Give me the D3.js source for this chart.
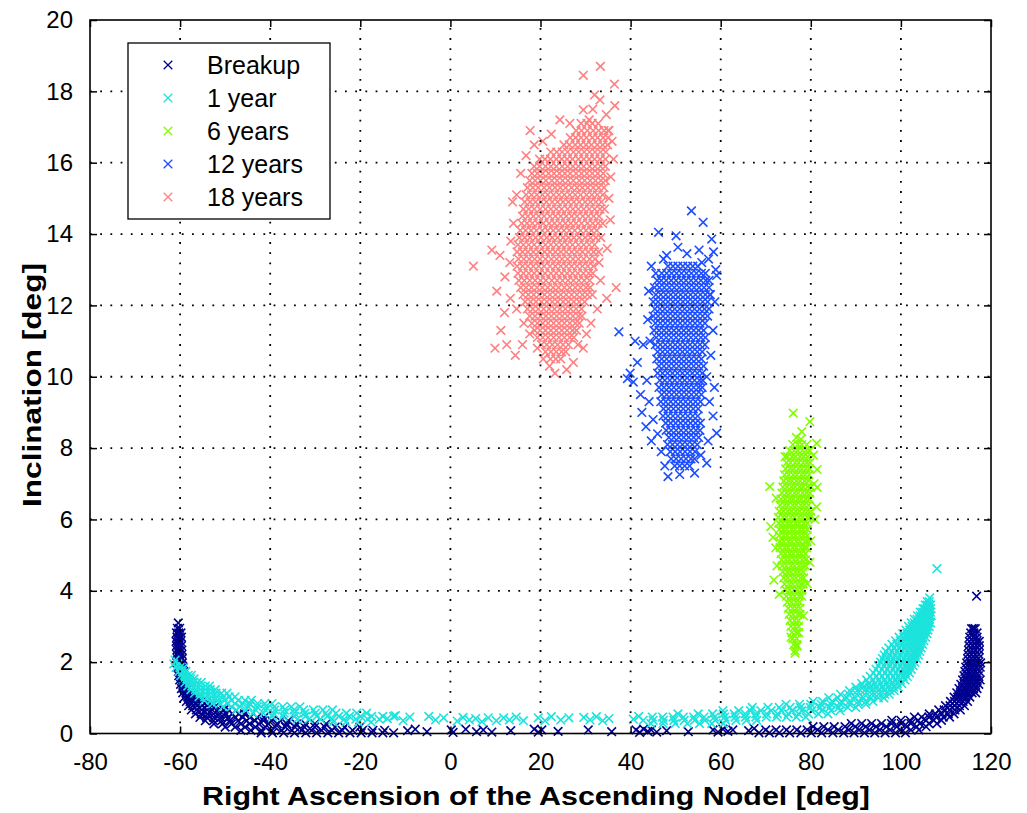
<!DOCTYPE html>
<html><head><meta charset="utf-8">
<script src="https://cdn.jsdelivr.net/npm/d3@7"></script>
<style>
body{margin:0;background:#fff}
text{font-family:"Liberation Sans",Arial,sans-serif}
</style>
</head><body>
<svg id="chart" width="1027" height="813"></svg>
<script>
// ---------------- data ----------------
const xTicks = [-80,-60,-40,-20,0,20,40,60,80,100,120];
const yTicks = [0,2,4,6,8,10,12,14,16,18,20];
const seriesNames = ["Breakup","1 year","6 years","12 years","18 years"];
const seriesColors = ["#00008f","#1ce3dc","#80ff00","#1c4dff","#ff8080"];
const xLabel = "Right Ascension of the Ascending Nodel [deg]";
const yLabel = "Inclination [deg]";

// Breakup: rows [inclination, [RAAN values]] and single points [RAAN, inclination]
const breakupRowsLeft = [
 [3.1,[-60.4]],[2.95,[-60.6,-60.1]],[2.82,[-60.8,-60.3,-59.8]],[2.7,[-60.7,-60.2,-59.7]],
 [2.58,[-60.9,-60.4,-59.9]],[2.46,[-60.8,-60.3,-59.7]],[2.34,[-60.7,-60.2,-59.6]],
 [2.22,[-60.8,-60.2,-59.6]],[2.1,[-60.6,-60.0,-59.5]],[1.98,[-60.7,-60.1,-59.5]],
 [1.86,[-60.5,-59.9,-59.3]],[1.74,[-60.4,-59.8,-59.2]],[1.62,[-60.3,-59.7,-59.1]],
 [1.5,[-60.1,-59.5,-58.9]],[1.38,[-59.9,-59.3,-58.6]],[1.26,[-59.7,-59.0,-58.3]],
 [1.14,[-59.4,-58.7,-57.9,-57.1]],[1.02,[-59.0,-58.3,-57.5,-56.6,-55.8]],
 [0.9,[-58.6,-57.8,-56.9,-55.9,-55.0,-54.1]],
 [0.78,[-58.1,-57.2,-56.2,-55.1,-54.0,-53.0,-52.0]],
 [0.66,[-57.5,-56.4,-55.2,-54.0,-52.8,-51.5,-50.3,-49.2]],
 [0.55,[-56.6,-55.3,-53.9,-52.6,-51.2,-49.8,-48.4,-47.0,-45.7]],
 [0.45,[-55.6,-54.1,-52.5,-51.0,-49.3,-47.7,-46.1,-44.5,-42.9,-41.4]],
 [0.36,[-54.4,-52.6,-50.8,-49.0,-47.1,-45.2,-43.4,-41.5,-39.7,-37.8,-36.0]],
 [0.27,[-52.5,-50.6,-48.6,-46.5,-44.6,-42.5,-40.4,-38.4,-36.3,-34.2,-32.2,-30.1,-27.6]],
 [0.18,[-50.0,-47.8,-45.6,-43.3,-41.1,-38.9,-36.6,-34.5,-32.4,-30.1,-27.9,-25.6,-23.5,-20.1]],
 [0.09,[-46.5,-44.3,-42.0,-39.7,-37.5,-35.2,-33.0,-30.8,-28.6,-26.3,-24.0,-21.7,-19.5,-17.2,-14.6]],
 [0.02,[-42.0,-39.5,-37.0,-34.6,-32.1,-29.7,-27.2,-24.8,-22.3,-19.8,-17.4,-15.0,-12.6]]
];
const breakupRowsRight = [
 [0.02,[68.5,70.8,73.0,75.3,77.8,80.1,82.4,84.9,87.3,89.6,91.9,94.2,96.5,98.8,101.0]],
 [0.1,[70.0,72.3,74.6,76.9,79.2,81.5,83.8,86.1,88.4,90.7,93.0,95.3,97.6,99.9,102.2,104.0]],
 [0.19,[80.5,82.9,85.2,87.6,89.9,92.2,94.5,96.8,99.1,101.3,103.5,105.6]],
 [0.28,[89.0,91.3,93.5,95.7,97.9,100.1,102.2,104.2,106.2,108.0]],
 [0.37,[98.0,100.0,102.0,103.8,105.6,107.3,109.0]],
 [0.46,[103.0,104.6,106.2,107.8,109.4,110.8]],
 [0.55,[106.3,107.7,109.1,110.5,111.8]],
 [0.66,[108.4,109.6,110.8,112.0,113.2]],
 [0.78,[109.9,110.9,111.9,113.0,114.1]],
 [0.9,[111.0,111.9,112.8,113.8,114.8]],
 [1.02,[111.8,112.6,113.5,114.4,115.3]],
 [1.14,[112.4,113.2,114.0,114.9,115.8,116.6]],
 [1.26,[112.9,113.7,114.5,115.3,116.1,116.9]],
 [1.38,[113.3,114.1,114.9,115.7,116.5,117.3]],
 [1.5,[113.7,114.5,115.3,116.1,116.9,117.6]],
 [1.62,[114.0,114.8,115.6,116.4,117.2]],
 [1.74,[114.2,115.0,115.8,116.6,117.4]],
 [1.86,[114.4,115.2,116.0,116.8,117.6]],
 [1.98,[114.6,115.4,116.2,117.0,117.7]],
 [2.1,[114.8,115.6,116.4,117.2]],
 [2.22,[114.9,115.7,116.5,117.3]],
 [2.34,[115.0,115.8,116.6,117.4]],
 [2.46,[115.1,115.9,116.7,117.4]],
 [2.58,[115.2,116.0,116.8,117.4]],
 [2.7,[115.3,116.1,116.9]],
 [2.82,[115.5,116.2,116.9]],
 [2.94,[115.7,116.1,116.5]]
];
const breakupPts = [
 [-9.5,0.08],[-7.8,0.12],[-5.2,0.05],[0.2,0.1],[0.6,0.03],[3.4,0.12],[5.8,0.05],[7.3,0.1],
 [9.2,0.04],[13.4,0.08],[18.6,0.12],[19.5,0.04],[20.3,0.1],[23.9,0.06],[30.6,0.1],[35.8,0.05],
 [41.2,0.1],[42.0,0.03],[42.9,0.12],[43.8,0.06],[44.6,0.1],[45.8,0.04],[48.0,0.08],[52.8,0.05],
 [58.3,0.1],[59.4,0.04],[60.5,0.12],[61.6,0.06],[62.7,0.1],[66.2,0.08],[67.4,0.14],
 [116.8,3.85]
];

// 1 year
const year1RowsLeft = [
 [2.06,[-61.1]],[1.95,[-61.4,-60.5]],[1.85,[-60.9,-60.0,-59.2]],[1.74,[-60.3,-59.5,-58.7]],
 [1.63,[-59.8,-59.0,-58.2,-57.5]],[1.53,[-59.3,-58.5,-57.7,-56.9]],
 [1.43,[-58.9,-58.0,-57.1,-56.2,-55.3]],[1.33,[-58.3,-57.4,-56.4,-55.4,-54.4,-53.5]],
 [1.23,[-57.6,-56.6,-55.5,-54.4,-53.3,-52.2]],[1.13,[-56.8,-55.6,-54.4,-53.2,-52.0,-50.8,-49.6]],
 [1.03,[-55.8,-54.5,-53.1,-51.8,-50.4,-49.1,-47.8]],
 [0.93,[-54.6,-53.1,-51.6,-50.1,-48.6,-47.1,-45.6,-44.2]],
 [0.84,[-52.8,-51.2,-49.5,-47.8,-46.1,-44.5,-42.8,-41.2,-39.6]],
 [0.75,[-50.5,-48.6,-46.7,-44.8,-42.9,-41.0,-39.1,-37.2,-35.3,-33.4]],
 [0.66,[-47.5,-45.4,-43.2,-41.1,-39.0,-36.8,-34.7,-32.6,-30.4,-28.3,-26.2]],
 [0.57,[-43.8,-41.5,-39.2,-36.9,-34.6,-32.3,-30.0,-27.7,-25.4,-23.1,-20.8,-18.6]],
 [0.48,[-39.5,-37.1,-34.6,-32.2,-29.7,-27.3,-24.8,-22.4,-19.9,-17.5,-15.0,-12.6]],
 [0.4,[-34.0,-31.4,-28.8,-26.2,-23.6,-21.0,-18.4,-15.8]],
 [0.32,[-26.0,-23.2,-20.4,-17.6]]
];
const year1RowsRight = [
 [0.28,[44.5,47.2,49.9,52.6,55.3,58.0,60.6]],
 [0.37,[42.8,45.0,47.3,49.6,51.9,54.2,56.5,58.8,61.1,63.4,65.7,68.0]],
 [0.46,[44.8,47.1,49.4,51.7,54.0,56.3,58.6,60.9,63.2,65.5,67.8,70.1,72.4,74.6,76.8,78.9]],
 [0.55,[50.5,55.0,58.2,60.6,63.0,65.4,67.8,70.2,72.6,75.0,77.3,79.5,81.7,83.8]],
 [0.64,[60.5,64.0,66.6,68.9,71.2,73.5,75.8,78.0,80.2,82.4,84.5,86.5]],
 [0.73,[67.0,70.5,73.0,75.4,77.7,79.9,82.1,84.2,86.2,88.2,90.0]],
 [0.82,[74.5,77.5,80.0,82.3,84.5,86.6,88.6,90.5,92.2]],
 [0.9,[80.5,82.6,84.7,86.7,88.6,90.5,92.2,93.8]],
 [1.0,[84.0,86.0,88.0,89.9,91.7,93.4,95.0,96.2]],
 [1.1,[86.6,88.4,90.2,91.9,93.5,95.0,96.4,97.4]],
 [1.2,[88.6,90.3,91.9,93.4,94.9,96.3,97.6,98.5]],
 [1.3,[90.0,91.6,93.1,94.5,95.9,97.2,98.4,99.4]],
 [1.4,[91.3,92.8,94.2,95.5,96.8,98.0,99.2,100.2]],
 [1.5,[92.4,93.8,95.1,96.4,97.6,98.8,99.9,100.9]],
 [1.6,[93.2,94.6,95.9,97.1,98.3,99.4,100.5,101.4]],
 [1.7,[93.9,95.2,96.5,97.7,98.9,100.0,101.0,101.9]],
 [1.8,[94.5,95.8,97.0,98.2,99.4,100.5,101.5,102.3]],
 [1.9,[95.0,96.3,97.5,98.7,99.9,101.0,102.0,102.7]],
 [2.0,[95.5,96.7,97.9,99.1,100.3,101.4,102.4,103.1]],
 [2.1,[95.9,97.1,98.3,99.5,100.7,101.8,102.8,103.5]],
 [2.2,[96.3,97.5,98.7,99.9,101.1,102.2,103.2,103.9]],
 [2.3,[96.7,97.9,99.1,100.3,101.5,102.6,103.5,104.2]],
 [2.4,[97.3,98.5,99.6,100.7,101.8,102.9,103.8,104.5]],
 [2.5,[98.0,99.1,100.2,101.2,102.2,103.2,104.1,104.8]],
 [2.6,[98.8,99.9,100.9,101.8,102.7,103.6,104.4,105.1]],
 [2.7,[99.6,100.6,101.5,102.4,103.2,104.0,104.8,105.5]],
 [2.8,[100.4,101.3,102.1,102.9,103.7,104.4,105.1,105.8]],
 [2.9,[101.1,101.9,102.7,103.4,104.1,104.8,105.4,106.0]],
 [3.0,[101.7,102.5,103.2,103.9,104.6,105.2,105.8,106.3]],
 [3.1,[102.3,103.0,103.7,104.3,104.9,105.5,106.1,106.6]],
 [3.2,[103.0,103.6,104.2,104.8,105.3,105.8,106.3]],
 [3.3,[103.7,104.3,104.8,105.3,105.8,106.3,106.7]],
 [3.4,[104.3,104.8,105.3,105.8,106.2,106.6]],
 [3.5,[104.9,105.3,105.8,106.2,106.6]],
 [3.6,[105.4,105.8,106.2,106.6]],
 [3.7,[105.8,106.3]],
 [3.8,[106.4]]
];
const year1Pts = [
 [-14.0,0.42],[-12.2,0.5],[-10.5,0.36],[-9.0,0.46],[-4.8,0.48],[-3.3,0.38],[-1.5,0.44],
 [1.5,0.35],[2.8,0.45],[4.2,0.38],[5.6,0.42],[7.0,0.33],[8.4,0.44],[10.2,0.36],[11.8,0.44],
 [13.1,0.38],[14.6,0.46],[16.2,0.36],[19.5,0.44],[21.0,0.36],[22.4,0.47],[24.5,0.38],
 [26.3,0.44],[29.6,0.45],[31.0,0.38],[32.4,0.47],[33.8,0.36],[35.2,0.42],[40.6,0.4],
 [41.8,0.48],[108.0,4.62]
];

// 6 years
const year6Rows = [
 [8.1,[76.0,77.1,78.0,79.1]],[7.93,[75.3,76.3,77.1,78.1,78.9,79.7]],
 [7.76,[74.8,75.8,76.6,77.6,78.4,79.3]],[7.59,[74.6,75.5,76.5,77.3,78.3,79.1,79.8]],
 [7.42,[74.4,75.4,76.2,77.2,78.0,78.9,79.7]],[7.25,[74.2,75.1,76.1,76.9,77.9,78.7,79.6]],
 [7.08,[74.0,75.0,75.8,76.8,77.6,78.6,79.4]],[6.91,[73.8,74.7,75.7,76.5,77.5,78.3,79.3,80.0]],
 [6.74,[73.6,74.6,75.4,76.4,77.2,78.2,79.0,79.8]],[6.57,[73.4,74.3,75.3,76.1,77.1,77.9,78.9,79.7]],
 [6.4,[73.2,74.2,75.0,76.0,76.8,77.8,78.6,79.5]],[6.23,[73.0,73.9,74.9,75.7,76.7,77.5,78.5,79.3,80.0]],
 [6.06,[72.8,73.8,74.6,75.6,76.4,77.4,78.2,79.2,79.9]],[5.89,[72.9,73.8,74.8,75.6,76.6,77.4,78.4,79.2]],
 [5.72,[73.0,73.9,74.7,75.7,76.5,77.5,78.3,79.2]],[5.55,[73.0,74.0,74.8,75.8,76.6,77.6,78.4,79.2]],
 [5.38,[73.1,74.0,75.0,75.8,76.8,77.6,78.6,79.2]],[5.21,[73.2,74.2,75.0,76.0,76.8,77.8,78.6,79.1]],
 [5.04,[73.4,74.3,75.3,76.1,77.1,77.9,78.8]],[4.87,[73.5,74.5,75.3,76.3,77.1,78.1,78.8]],
 [4.7,[73.7,74.6,75.6,76.4,77.4,78.2,78.8]],[4.53,[73.8,74.8,75.6,76.6,77.4,78.3]],
 [4.36,[74.0,74.9,75.9,76.7,77.7,78.4]],[4.19,[74.2,75.2,76.0,77.0,77.8,78.3]],
 [4.02,[74.4,75.3,76.3,77.1,78.0]],[3.85,[74.6,75.6,76.4,77.4,78.0]],
 [3.68,[74.8,75.7,76.7,77.5]],[3.51,[75.0,76.0,76.8,77.6]],[3.34,[75.2,76.1,77.1,77.6]],
 [3.17,[75.4,76.4,77.2]],[3.0,[75.6,76.5,77.3]],[2.83,[75.8,76.8,77.3]],
 [2.66,[76.0,76.9]],[2.49,[76.2,76.9]],[2.32,[76.5]]
];
const year6Pts = [
 [76.1,8.98],[79.8,8.74],[78.0,8.46],[81.3,8.13],[76.8,8.3],[77.8,8.25],[74.3,7.76],[80.6,7.8],
 [81.4,7.4],[80.7,7.0],[81.4,6.9],[81.3,6.35],[80.9,6.0],[70.9,6.92],[72.3,6.6],[71.1,5.8],
 [71.6,5.5],[72.2,5.2],[71.8,4.3],[72.5,4.7],[73.0,3.9],[80.0,5.4],[79.8,4.8],[76.5,2.25],
 [77.0,2.45],[75.6,2.7],[78.4,3.3],[79.2,4.2]
];

// 12 years
const year12Rows = [
 [13.1,[48.3,49.4,50.5,51.6,52.7,53.8,54.9]],
 [12.9,[46.9,48.0,49.1,50.2,51.3,52.4,53.5,54.6,55.7,56.6]],
 [12.7,[45.9,46.8,47.9,49.0,50.1,51.2,52.3,53.4,54.5,55.6,56.7,57.4]],
 [12.5,[45.3,46.4,47.5,48.6,49.7,50.8,51.9,53.0,54.1,55.2,56.3,57.4]],
 [12.3,[45.6,46.7,47.8,48.9,50.0,51.1,52.2,53.3,54.4,55.5,56.6,57.7]],
 [12.1,[45.0,46.1,47.2,48.3,49.4,50.5,51.6,52.7,53.8,54.9,56.0,57.1]],
 [11.9,[45.4,46.5,47.6,48.7,49.8,50.9,52.0,53.1,54.2,55.3,56.4,57.4]],
 [11.7,[45.0,46.1,47.2,48.3,49.4,50.5,51.6,52.7,53.8,54.9,56.0,57.1]],
 [11.5,[45.5,46.6,47.7,48.8,49.9,51.0,52.1,53.2,54.3,55.4,56.5]],
 [11.3,[45.2,46.3,47.4,48.5,49.6,50.7,51.8,52.9,54.0,55.1,56.2]],
 [11.1,[45.7,46.8,47.9,49.0,50.1,51.2,52.3,53.4,54.5,55.6,56.6]],
 [10.9,[45.5,46.6,47.7,48.8,49.9,51.0,52.1,53.2,54.3,55.4,56.5]],
 [10.7,[46.0,47.1,48.2,49.3,50.4,51.5,52.6,53.7,54.8,55.9]],
 [10.5,[45.8,46.9,48.0,49.1,50.2,51.3,52.4,53.5,54.6,55.7]],
 [10.3,[46.3,47.4,48.5,49.6,50.7,51.8,52.9,54.0,55.1,56.2]],
 [10.1,[46.0,47.1,48.2,49.3,50.4,51.5,52.6,53.7,54.8,55.9]],
 [9.9,[46.5,47.6,48.7,49.8,50.9,52.0,53.1,54.2,55.3,56.0]],
 [9.7,[46.3,47.4,48.5,49.6,50.7,51.8,52.9,54.0,55.1,55.9]],
 [9.5,[46.9,48.0,49.1,50.2,51.3,52.4,53.5,54.6,55.7]],
 [9.3,[46.7,47.8,48.9,50.0,51.1,52.2,53.3,54.4,55.5]],
 [9.1,[47.3,48.4,49.5,50.6,51.7,52.8,53.9,55.0]],
 [8.9,[47.2,48.3,49.4,50.5,51.6,52.7,53.8,54.9]],
 [8.7,[47.8,48.9,50.0,51.1,52.2,53.3,54.4,55.5]],
 [8.5,[47.9,49.0,50.1,51.2,52.3,53.4,54.5,55.4]],
 [8.3,[48.5,49.6,50.7,51.8,52.9,54.0,55.1]],
 [8.1,[48.2,49.3,50.4,51.5,52.6,53.7,54.8]],
 [7.9,[48.8,49.9,51.0,52.1,53.2,54.3]],
 [7.7,[49.0,50.1,51.2,52.3,53.4,54.2]],
 [7.5,[49.8,50.9,52.0,53.1]]
];
const year12Pts = [
 [53.5,14.65],[56.1,14.33],[46.2,14.05],[50.1,13.95],[50.5,13.63],[58.0,13.86],[58.4,13.5],
 [59.1,12.84],[55.2,13.55],[57.3,13.3],[48.0,13.4],[52.5,13.45],[44.6,13.1],[44.0,12.4],
 [43.8,11.6],[44.3,11.0],[37.4,11.26],[39.3,9.95],[39.9,10.1],[40.6,9.85],[41.5,10.4],
 [42.8,10.9],[42.2,9.5],[43.6,9.9],[42.5,9.0],[43.4,8.6],[44.1,9.3],[45.0,8.8],[44.6,8.2],
 [46.0,8.4],[46.8,7.9],[47.6,7.5],[48.3,7.2],[50.9,7.26],[54.2,7.3],[56.9,7.58],[55.6,7.8],
 [57.2,8.2],[59.1,8.42],[58.3,8.9],[57.5,9.3],[58.6,9.7],[57.8,10.6],[58.3,11.3],[58.7,12.1],
 [57.6,12.3],[56.9,10.0],[58.9,13.0],[41.0,11.0],[47.3,13.3],[55.8,13.2],[45.6,12.9]
];

// 18 years
const year18Rows = [
 [17.1,[29.0,30.3,31.5,32.8]],
 [16.9,[27.9,29.1,30.4,31.7,32.9,34.1,35.2]],
 [16.7,[26.6,27.8,29.0,30.2,31.5,32.7,33.9,35.0]],
 [16.5,[25.2,26.4,27.7,28.9,30.1,31.3,32.6,33.8,34.9]],
 [16.3,[22.3,23.6,24.8,26.0,27.3,28.5,29.7,30.9,32.1,33.3,34.5]],
 [16.1,[19.8,21.0,22.2,23.5,24.7,25.9,27.1,28.4,29.6,30.8,32.0,33.2,34.4]],
 [15.9,[18.6,19.8,21.1,22.3,23.5,24.8,26.0,27.2,28.4,29.6,30.9,32.1,33.3,34.4]],
 [15.7,[18.1,19.3,20.5,21.8,23.0,24.2,25.4,26.6,27.9,29.1,30.3,31.5,32.7,33.9]],
 [15.5,[17.6,18.8,20.0,21.2,22.5,23.7,24.9,26.1,27.3,28.6,29.8,31.0,32.2,33.4,34.4]],
 [15.3,[17.1,18.3,19.5,20.8,22.0,23.2,24.4,25.6,26.9,28.1,29.3,30.5,31.7,32.9,34.1]],
 [15.1,[16.8,18.0,19.2,20.4,21.6,22.9,24.1,25.3,26.5,27.7,28.9,30.2,31.4,32.6,33.8]],
 [14.9,[16.5,17.7,18.9,20.1,21.3,22.6,23.8,25.0,26.2,27.4,28.6,29.9,31.1,32.3,33.5]],
 [14.7,[16.2,17.4,18.6,19.9,21.1,22.3,23.5,24.7,26.0,27.2,28.4,29.6,30.8,32.0,33.2,34.2]],
 [14.5,[16.0,17.2,18.4,19.6,20.8,22.1,23.3,24.5,25.7,26.9,28.1,29.4,30.6,31.8,33.0]],
 [14.3,[15.8,17.0,18.2,19.4,20.6,21.9,23.1,24.3,25.5,26.7,27.9,29.1,30.4,31.6,32.8,33.8]],
 [14.1,[15.5,16.7,17.9,19.1,20.4,21.6,22.8,24.0,25.2,26.4,27.6,28.9,30.1,31.3,32.5]],
 [13.9,[15.3,16.5,17.7,18.9,20.1,21.4,22.6,23.8,25.0,26.2,27.4,28.6,29.9,31.1,32.3,33.4]],
 [13.7,[15.0,16.2,17.4,18.6,19.9,21.1,22.3,23.5,24.7,25.9,27.1,28.4,29.6,30.8,32.0]],
 [13.5,[14.8,16.0,17.2,18.4,19.6,20.9,22.1,23.3,24.5,25.7,26.9,28.1,29.3,30.6,31.8,32.9]],
 [13.3,[15.1,16.3,17.5,18.7,19.9,21.1,22.4,23.6,24.8,26.0,27.2,28.4,29.6,30.9,32.1]],
 [13.1,[14.8,16.0,17.2,18.4,19.6,20.8,22.1,23.3,24.5,25.7,26.9,28.1,29.3,30.5,31.7]],
 [12.9,[15.0,16.2,17.4,18.6,19.8,21.0,22.3,23.5,24.7,25.9,27.1,28.3,29.5,30.7,31.6]],
 [12.7,[15.2,16.4,17.6,18.8,20.0,21.2,22.5,23.7,24.9,26.1,27.3,28.5,29.7,30.9]],
 [12.5,[15.6,16.8,18.0,19.2,20.4,21.6,22.8,24.0,25.3,26.5,27.7,28.9,30.1,31.0]],
 [12.3,[16.1,17.3,18.5,19.7,20.9,22.1,23.3,24.5,25.7,26.9,28.1,29.3,30.4]],
 [12.1,[16.6,17.8,19.0,20.2,21.4,22.6,23.8,25.0,26.2,27.4,28.6,29.8]],
 [11.9,[17.1,18.3,19.5,20.7,21.9,23.1,24.3,25.5,26.7,27.9,29.1]],
 [11.7,[17.6,18.8,20.0,21.2,22.4,23.6,24.8,26.0,27.2,28.4,29.2]],
 [11.5,[18.1,19.3,20.5,21.7,22.9,24.1,25.3,26.5,27.7,28.6]],
 [11.3,[18.7,19.9,21.1,22.3,23.5,24.7,25.9,27.1,28.0]],
 [11.1,[19.3,20.5,21.7,22.9,24.1,25.3,26.5,27.4]],
 [10.9,[20.2,21.4,22.6,23.8,25.0,26.2]],
 [10.7,[21.1,22.3,23.5,24.7,25.6]],
 [10.5,[22.2,23.4,24.5]]
];
const year18Pts = [
 [33.3,18.7],[29.5,18.45],[36.4,18.2],[33.2,17.76],[36.5,17.6],[29.5,17.48],[31.6,17.5],
 [34.6,17.35],[24.3,17.2],[26.5,17.1],[17.7,16.9],[35.9,16.6],[36.2,16.1],[35.6,15.6],
 [35.2,15.0],[35.5,14.4],[34.8,13.6],[36.8,12.5],[34.7,12.2],[33.3,12.7],[32.6,11.9],
 [31.2,11.5],[30.2,11.2],[29.5,10.8],[27.3,10.4],[25.8,10.2],[23.2,10.1],[20.6,10.5],
 [19.3,10.8],[17.6,11.2],[16.3,11.5],[14.7,11.9],[13.3,12.2],[12.5,10.9],[9.9,10.8],
 [11.2,11.3],[10.3,12.4],[12.1,12.8],[11.0,13.4],[9.2,13.55],[5.1,13.1],[13.4,13.8],
 [14.0,14.3],[14.7,15.1],[13.8,14.9],[15.6,15.7],[16.8,16.2],[18.6,16.5],[20.5,16.6],
 [22.4,16.8],[13.2,13.2],[12.0,11.8],[14.4,10.6],[16.0,10.9],[22.0,10.3],[28.3,10.9],
 [31.5,12.3],[33.0,13.2],[35.0,16.9],[32.0,17.9],[30.8,17.2]
];

// ---------------- drawing ----------------
const fromRows = rows => rows.flatMap(([yv, xs]) => xs.map(xv => [xv, yv]));
const seriesPoints = [
  fromRows(breakupRowsLeft).concat(fromRows(breakupRowsRight), breakupPts),
  fromRows(year1RowsLeft).concat(fromRows(year1RowsRight), year1Pts),
  fromRows(year6Rows).concat(year6Pts),
  fromRows(year12Rows).concat(year12Pts),
  fromRows(year18Rows).concat(year18Pts)
];

const svg = d3.select("#chart");
const x = d3.scaleLinear().domain([-80,120]).range([90,991]);
const y = d3.scaleLinear().domain([0,20]).range([733.5,20]);
const markerPath = "M-4.3,-4.3L4.3,4.3M-4.3,4.3L4.3,-4.3";
const markerWidth = 1.6;

// data markers
seriesPoints.forEach((pts, i) => {
  svg.append("g").attr("class","series")
    .selectAll("path").data(pts).join("path")
    .attr("d", markerPath)
    .attr("transform", d => `translate(${x(d[0])},${y(d[1])})`)
    .attr("fill","none").attr("stroke", seriesColors[i]).attr("stroke-width",markerWidth);
});

// grid (drawn over the data, as in the original)
const grid = svg.append("g").attr("stroke","#000").attr("stroke-width",1.8)
  .attr("stroke-dasharray","1.8 8.4");
grid.selectAll(".gx").data(xTicks.slice(1,-1)).join("line")
  .attr("x1", d => x(d)).attr("x2", d => x(d)).attr("y1", y(0)).attr("y2", y(20));
grid.selectAll(".gy").data(yTicks.slice(1,-1)).join("line")
  .attr("y1", d => y(d)).attr("y2", d => y(d)).attr("x1", x(-80)).attr("x2", x(120));

// axes with inward ticks on all sides
const tl = 7;
const fmt = d => String(d);
const axB = svg.append("g").attr("transform",`translate(0,${y(0)})`)
  .call(d3.axisBottom(x).tickValues(xTicks).tickSize(-tl).tickPadding(tl+12).tickFormat(fmt));
const axT = svg.append("g").attr("transform",`translate(0,${y(20)})`)
  .call(d3.axisTop(x).tickValues(xTicks).tickSize(-tl).tickFormat(""));
const axL = svg.append("g").attr("transform",`translate(${x(-80)},0)`)
  .call(d3.axisLeft(y).tickValues(yTicks).tickSize(-tl).tickPadding(tl+10).tickFormat(fmt));
const axR = svg.append("g").attr("transform",`translate(${x(120)},0)`)
  .call(d3.axisRight(y).tickValues(yTicks).tickSize(-tl).tickFormat(""));
[axB,axT,axL,axR].forEach(a => {
  a.select(".domain").remove();
  a.selectAll(".tick line").attr("stroke","#000").attr("stroke-width",1.5);
  a.selectAll("text").attr("font-size",24).attr("fill","#000")
   .style("font-family",'"Liberation Sans",Arial,sans-serif');
});
svg.append("rect").attr("x",x(-80)).attr("y",y(20))
  .attr("width",x(120)-x(-80)).attr("height",y(0)-y(20))
  .attr("fill","none").attr("stroke","#000").attr("stroke-width",1.6);

// axis labels
svg.append("text").attr("x",536).attr("y",805).attr("text-anchor","middle")
  .attr("font-size",25).attr("font-weight","bold").attr("textLength",668)
  .attr("lengthAdjust","spacingAndGlyphs").text(xLabel);
svg.append("text").attr("transform","translate(41,385) rotate(-90)")
  .attr("text-anchor","middle").attr("font-size",25).attr("font-weight","bold")
  .attr("textLength",244).attr("lengthAdjust","spacingAndGlyphs").text(yLabel);

// legend
const lg = svg.append("g");
lg.append("rect").attr("x",128).attr("y",43).attr("width",202).attr("height",176)
  .attr("fill","#fff").attr("stroke","#000").attr("stroke-width",1.3);
seriesNames.forEach((n,i) => {
  const cy = 65 + i*33;
  lg.append("path").attr("d",markerPath).attr("transform",`translate(168,${cy})`)
    .attr("fill","none").attr("stroke",seriesColors[i]).attr("stroke-width",1.3);
  lg.append("text").attr("x",207).attr("y",cy+9).attr("font-size",25).text(n);
});
</script>
</body></html>
